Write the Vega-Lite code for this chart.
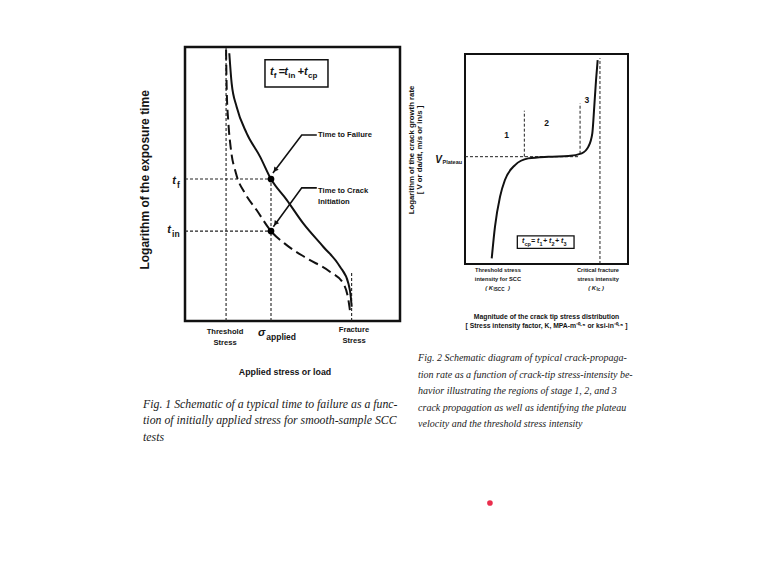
{
  "$schema": "https://vega.github.io/schema/vega-lite/v6.json",
  "width": 767,
  "height": 573,
  "autosize": {"type": "fit", "contains": "padding"},
  "padding": 0,
  "background": "white",
  "config": {
    "view": {"stroke": null},
    "text": {"font": "Liberation Sans Narrow, Liberation Sans, Arial, sans-serif", "fontWeight": "bold", "color": "#141414"}
  },
  "datasets": {
    "p1_box": [{"x": 0, "x2": 100, "y": 0, "y2": 100}],
    "p1_formula_box": [{"x": 37.2, "x2": 66.5, "y": 85.4, "y2": 95.3}],
    "p1_curves": [
      {"s": "time to failure", "x": 20.6, "y": 97.7},
      {"s": "time to failure", "x": 21.7, "y": 86.7},
      {"s": "time to failure", "x": 24.0, "y": 78.2},
      {"s": "time to failure", "x": 28.7, "y": 68.5},
      {"s": "time to failure", "x": 34.9, "y": 60.0},
      {"s": "time to failure", "x": 40.0, "y": 51.8},
      {"s": "time to failure", "x": 47.3, "y": 44.2},
      {"s": "time to failure", "x": 55.0, "y": 35.6},
      {"s": "time to failure", "x": 64.3, "y": 27.1},
      {"s": "time to failure", "x": 72.1, "y": 19.8},
      {"s": "time to failure", "x": 76.0, "y": 13.7},
      {"s": "time to failure", "x": 77.1, "y": 8.9},
      {"s": "time to failure", "x": 77.5, "y": 5.2},
      {"s": "time to crack initiation", "x": 19.1, "y": 99.0},
      {"s": "time to crack initiation", "x": 19.4, "y": 84.3},
      {"s": "time to crack initiation", "x": 20.2, "y": 72.1},
      {"s": "time to crack initiation", "x": 21.4, "y": 62.4},
      {"s": "time to crack initiation", "x": 23.7, "y": 53.9},
      {"s": "time to crack initiation", "x": 27.9, "y": 46.6},
      {"s": "time to crack initiation", "x": 33.3, "y": 40.5},
      {"s": "time to crack initiation", "x": 40.0, "y": 32.8},
      {"s": "time to crack initiation", "x": 47.3, "y": 27.7},
      {"s": "time to crack initiation", "x": 56.6, "y": 22.9},
      {"s": "time to crack initiation", "x": 67.4, "y": 18.0},
      {"s": "time to crack initiation", "x": 73.6, "y": 13.7},
      {"s": "time to crack initiation", "x": 76.0, "y": 7.7},
      {"s": "time to crack initiation", "x": 76.7, "y": 4.0}
    ],
    "p1_guides": [
      {"name": "threshold stress", "x": 19.1, "x2": 19.1, "y": 0, "y2": 100},
      {"name": "applied stress", "x": 40, "x2": 40, "y": 0, "y2": 51.8},
      {"name": "fracture stress", "x": 77.5, "x2": 77.5, "y": 0, "y2": 17.5},
      {"name": "t_f", "x": 0, "x2": 40, "y": 51.8, "y2": 51.8},
      {"name": "t_in", "x": 0, "x2": 40, "y": 32.8, "y2": 32.8}
    ],
    "p1_points": [{"name": "t_f", "x": 40, "y": 51.8}, {"name": "t_in", "x": 40, "y": 32.8}],
    "p1_leaders": [
      {"s": "failure", "x": 61.3, "y": 67.9},
      {"s": "failure", "x": 54.3, "y": 67.9},
      {"s": "failure", "x": 40.9, "y": 54.0},
      {"s": "initiation", "x": 61.3, "y": 48.6},
      {"s": "initiation", "x": 54.3, "y": 48.6},
      {"s": "initiation", "x": 41.1, "y": 34.4}
    ],
    "p1_arrowheads": [{"s": "failure", "x": 41.9, "y": 55.1}, {"s": "initiation", "x": 42.1, "y": 35.6}],
    "p1_text": [
      {"role": "callout", "text": "Time to Failure", "x": 61.9, "y": 69.2},
      {"role": "callout", "text": "Time to Crack\nInitiation", "x": 61.9, "y": 48.9},
      {"role": "tick", "text": "Threshold\nStress", "x": 18.6, "y": -2.55},
      {"role": "tick", "text": "Fracture\nStress", "x": 78.6, "y": -1.8},
      {"role": "xtitle", "text": "Applied stress or load", "x": 46.5, "y": -18.6},
      {"role": "ytitle", "text": "Logarithm of the exposure time", "x": -18.6, "y": 51.5},
      {"role": "formula", "text": "t", "x": 39.53, "y": 90.9},
      {"role": "formula", "text": "=", "x": 43.5, "y": 90.9},
      {"role": "formula", "text": "t", "x": 46.2, "y": 90.9},
      {"role": "formula", "text": "+", "x": 52.3, "y": 90.9},
      {"role": "formula", "text": "t", "x": 55.35, "y": 90.9},
      {"role": "formula_sub", "text": "f", "x": 41.3, "y": 89.4},
      {"role": "formula_sub", "text": "in", "x": 48.0, "y": 89.4},
      {"role": "formula_sub", "text": "cp", "x": 57.21, "y": 89.4},
      {"role": "sym", "text": "t", "x": -4.2, "y": 51.1},
      {"role": "sym", "text": "t", "x": -6.5, "y": 33.2},
      {"role": "sym", "text": "σ", "x": 37.4, "y": -4.4},
      {"role": "sym_sub", "text": "f", "x": -3.7, "y": 49.6},
      {"role": "sym_sub", "text": "in", "x": -6.0, "y": 31.8},
      {"role": "sym_sub", "text": "applied", "x": 37.8, "y": -5.8},
      {"role": "caption", "text": "Fig. 1 Schematic of a typical time to failure as a func-\ntion of initially applied stress for smooth-sample SCC\ntests", "x": -19.5, "y": -28.5}
    ],
    "p2_box": [{"x": 0, "x2": 100, "y": 0, "y2": 100}],
    "p2_formula_box": [{"x": 32.1, "x2": 66.9, "y": 7.4, "y2": 13.4}],
    "p2_curve": [
      {"x": 16.4, "y": 2.7},
      {"x": 18.4, "y": 17.8},
      {"x": 21.5, "y": 32.1},
      {"x": 24.5, "y": 40.0},
      {"x": 30.7, "y": 47.1},
      {"x": 38.8, "y": 50.3},
      {"x": 51.1, "y": 51.1},
      {"x": 63.4, "y": 51.4},
      {"x": 71.6, "y": 52.7},
      {"x": 75.7, "y": 55.9},
      {"x": 78.1, "y": 62.2},
      {"x": 79.3, "y": 74.9},
      {"x": 80.4, "y": 87.6},
      {"x": 81.4, "y": 97.1}
    ],
    "p2_guides": [
      {"name": "critical fracture stress intensity", "x": 82.8, "x2": 82.8, "y": 0, "y2": 98},
      {"name": "plateau velocity", "x": 0, "x2": 70, "y": 51.1, "y2": 51.1},
      {"name": "stage 1/2", "x": 36.4, "x2": 36.4, "y": 51.1, "y2": 73},
      {"name": "stage 2/3", "x": 70.6, "x2": 70.6, "y": 52.5, "y2": 76.5}
    ],
    "p2_text": [
      {"role": "ytitle", "text": "Logarithm of the crack growth rate\n[ V or da/dt, m/s or in/s ]", "x": -35.2, "y": 54.3},
      {"role": "vsym", "text": "V", "x": -14.1, "y": 49.5},
      {"role": "vsub", "text": "Plateau", "x": -13.8, "y": 48.6},
      {"role": "stage", "text": "1", "x": 25.6, "y": 61.4},
      {"role": "stage", "text": "2", "x": 50.1, "y": 67.0},
      {"role": "stage", "text": "3", "x": 74.7, "y": 78.1},
      {"role": "formula", "text": "t", "x": 35.0, "y": 10.8},
      {"role": "formula", "text": "= t", "x": 40.5, "y": 10.8},
      {"role": "formula", "text": "+ t", "x": 47.9, "y": 10.8},
      {"role": "formula", "text": "+ t", "x": 55.2, "y": 10.8},
      {"role": "formula_sub", "text": "cp", "x": 36.5, "y": 9.6},
      {"role": "formula_sub", "text": "1", "x": 45.7, "y": 9.6},
      {"role": "formula_sub", "text": "2", "x": 53.1, "y": 9.6},
      {"role": "formula_sub", "text": "3", "x": 60.4, "y": 9.6},
      {"role": "tick", "text": "Threshold stress\nintensity for SCC", "x": 20.2, "y": -1.6},
      {"role": "tick", "text": "Critical fracture\nstress intensity", "x": 81.6, "y": -1.6},
      {"role": "k", "text": "( K", "x": 17.2, "y": -11.6},
      {"role": "k", "text": ")", "x": 27.6, "y": -11.6},
      {"role": "k_sub", "text": "ISCC", "x": 17.5, "y": -12.3},
      {"role": "k", "text": "( K", "x": 80.4, "y": -11.6},
      {"role": "k", "text": ")", "x": 85.3, "y": -11.6},
      {"role": "k_sub", "text": "Ic", "x": 80.7, "y": -12.3},
      {"role": "xtitle", "text": "Magnitude of the crack tip stress distribution\n[ Stress intensity factor, K, MPA-m⁻⁰·⁵ or ksi-in⁻⁰·⁵ ]", "x": 50.0, "y": -24.0},
      {"role": "caption", "text": "Fig. 2 Schematic diagram of typical crack-propaga-\ntion rate as a function of crack-tip stress-intensity be-\nhavior illustrating the regions of stage 1, 2, and 3\ncrack propagation as well as identifying the plateau\nvelocity and the threshold stress intensity", "x": -28.8, "y": -42.6}
    ],
    "pointer": [{"name": "laser pointer", "x": 15.3, "y": -113.8}]
  },
  "layer": [
    {
      "encoding": {
        "x": {"field": "x", "type": "quantitative", "scale": {"domain": [-86.05, 270.7], "nice": false, "zero": false}, "axis": null},
        "y": {"field": "y", "type": "quantitative", "scale": {"domain": [-91.97, 117.15], "nice": false, "zero": false}, "axis": null}
      },
      "layer": [
        {"data": {"name": "p1_box"}, "mark": {"type": "rect", "fill": null, "stroke": "#111", "strokeWidth": 2.5}, "encoding": {"x2": {"field": "x2"}, "y2": {"field": "y2"}}},
        {"data": {"name": "p1_guides"}, "mark": {"type": "rule", "stroke": "#222", "strokeWidth": 1.1, "strokeDash": [3, 2]}, "encoding": {"x2": {"field": "x2"}, "y2": {"field": "y2"}}},
        {"data": {"name": "p1_curves"}, "transform": [{"filter": "datum.s === 'time to failure'"}], "mark": {"type": "line", "interpolate": "monotone", "stroke": "#111", "strokeWidth": 2}, "encoding": {}},
        {"data": {"name": "p1_curves"}, "transform": [{"filter": "datum.s === 'time to crack initiation'"}], "mark": {"type": "line", "interpolate": "monotone", "stroke": "#111", "strokeWidth": 2, "strokeDash": [10, 5]}, "encoding": {}},
        {"data": {"name": "p1_leaders"}, "mark": {"type": "line", "stroke": "#111", "strokeWidth": 1.6}, "encoding": {"detail": {"field": "s"}}},
        {"data": {"name": "p1_arrowheads"}, "mark": {"type": "point", "shape": "triangle-up", "angle": 217, "filled": true, "color": "#111", "size": 30, "opacity": 1}, "encoding": {}},
        {"data": {"name": "p1_points"}, "mark": {"type": "point", "filled": true, "color": "#000", "size": 45, "opacity": 1}, "encoding": {}},
        {"data": {"name": "p1_formula_box"}, "mark": {"type": "rect", "fill": "white", "stroke": "#111", "strokeWidth": 1.5}, "encoding": {"x2": {"field": "x2"}, "y2": {"field": "y2"}}},
        {"data": {"name": "p1_text"}, "transform": [{"filter": "datum.role === 'callout'"}], "mark": {"type": "text", "fontSize": 7.6, "align": "left", "baseline": "top", "lineBreak": "\n", "lineHeight": 11}, "encoding": {"text": {"field": "text"}}},
        {"data": {"name": "p1_text"}, "transform": [{"filter": "datum.role === 'tick'"}], "mark": {"type": "text", "fontSize": 7.6, "align": "center", "baseline": "top", "lineBreak": "\n", "lineHeight": 11.5}, "encoding": {"text": {"field": "text"}}},
        {"data": {"name": "p1_text"}, "transform": [{"filter": "datum.role === 'xtitle'"}], "mark": {"type": "text", "fontSize": 8.8, "align": "center", "baseline": "middle"}, "encoding": {"text": {"field": "text"}}},
        {"data": {"name": "p1_text"}, "transform": [{"filter": "datum.role === 'ytitle'"}], "mark": {"type": "text", "fontSize": 12, "align": "center", "baseline": "middle", "angle": 270}, "encoding": {"text": {"field": "text"}}},
        {"data": {"name": "p1_text"}, "transform": [{"filter": "datum.role === 'formula'"}], "mark": {"type": "text", "fontSize": 11, "align": "left", "baseline": "middle", "fontStyle": "italic"}, "encoding": {"text": {"field": "text"}}},
        {"data": {"name": "p1_text"}, "transform": [{"filter": "datum.role === 'formula_sub'"}], "mark": {"type": "text", "fontSize": 8, "align": "left", "baseline": "middle"}, "encoding": {"text": {"field": "text"}}},
        {"data": {"name": "p1_text"}, "transform": [{"filter": "datum.role === 'sym'"}], "mark": {"type": "text", "fontSize": 11, "align": "right", "baseline": "middle", "fontStyle": "italic"}, "encoding": {"text": {"field": "text"}}},
        {"data": {"name": "p1_text"}, "transform": [{"filter": "datum.role === 'sym_sub'"}], "mark": {"type": "text", "fontSize": 8.5, "align": "left", "baseline": "middle"}, "encoding": {"text": {"field": "text"}}},
        {"data": {"name": "p1_text"}, "transform": [{"filter": "datum.role === 'caption'"}], "mark": {"type": "text", "font": "Liberation Serif, Times New Roman, serif", "fontWeight": "normal", "fontStyle": "italic", "fontSize": 11.8, "align": "left", "baseline": "top", "lineBreak": "\n", "lineHeight": 16.3, "color": "#1a1a1a"}, "encoding": {"text": {"field": "text"}}}
      ]
    },
    {
      "encoding": {
        "x": {"field": "x", "type": "quantitative", "scale": {"domain": [-285.28, 185.28], "nice": false, "zero": false}, "axis": null},
        "y": {"field": "y", "type": "quantitative", "scale": {"domain": [-147.14, 125.71], "nice": false, "zero": false}, "axis": null}
      },
      "layer": [
        {"data": {"name": "p2_box"}, "mark": {"type": "rect", "fill": null, "stroke": "#111", "strokeWidth": 2}, "encoding": {"x2": {"field": "x2"}, "y2": {"field": "y2"}}},
        {"data": {"name": "p2_guides"}, "mark": {"type": "rule", "stroke": "#222", "strokeWidth": 1, "strokeDash": [3, 2]}, "encoding": {"x2": {"field": "x2"}, "y2": {"field": "y2"}}},
        {"data": {"name": "p2_curve"}, "mark": {"type": "line", "interpolate": "monotone", "stroke": "#111", "strokeWidth": 2}, "encoding": {}},
        {"data": {"name": "p2_formula_box"}, "mark": {"type": "rect", "fill": "white", "stroke": "#111", "strokeWidth": 1.3}, "encoding": {"x2": {"field": "x2"}, "y2": {"field": "y2"}}},
        {"data": {"name": "p2_text"}, "transform": [{"filter": "datum.role === 'ytitle'"}], "mark": {"type": "text", "fontSize": 7.8, "align": "center", "baseline": "top", "angle": 270, "lineBreak": "\n", "lineHeight": 8.7}, "encoding": {"text": {"field": "text"}}},
        {"data": {"name": "p2_text"}, "transform": [{"filter": "datum.role === 'vsym'"}], "mark": {"type": "text", "fontSize": 10, "align": "right", "baseline": "middle", "fontStyle": "italic"}, "encoding": {"text": {"field": "text"}}},
        {"data": {"name": "p2_text"}, "transform": [{"filter": "datum.role === 'vsub'"}], "mark": {"type": "text", "fontSize": 5.5, "align": "left", "baseline": "middle"}, "encoding": {"text": {"field": "text"}}},
        {"data": {"name": "p2_text"}, "transform": [{"filter": "datum.role === 'stage'"}], "mark": {"type": "text", "fontSize": 8.5, "align": "center", "baseline": "middle"}, "encoding": {"text": {"field": "text"}}},
        {"data": {"name": "p2_text"}, "transform": [{"filter": "datum.role === 'formula'"}], "mark": {"type": "text", "fontSize": 7, "align": "left", "baseline": "middle", "fontStyle": "italic"}, "encoding": {"text": {"field": "text"}}},
        {"data": {"name": "p2_text"}, "transform": [{"filter": "datum.role === 'formula_sub'"}], "mark": {"type": "text", "fontSize": 5.5, "align": "left", "baseline": "middle"}, "encoding": {"text": {"field": "text"}}},
        {"data": {"name": "p2_text"}, "transform": [{"filter": "datum.role === 'tick'"}], "mark": {"type": "text", "fontSize": 5.7, "align": "center", "baseline": "top", "lineBreak": "\n", "lineHeight": 8.5}, "encoding": {"text": {"field": "text"}}},
        {"data": {"name": "p2_text"}, "transform": [{"filter": "datum.role === 'k'"}], "mark": {"type": "text", "fontSize": 5.8, "align": "right", "baseline": "middle", "fontStyle": "italic"}, "encoding": {"text": {"field": "text"}}},
        {"data": {"name": "p2_text"}, "transform": [{"filter": "datum.role === 'k_sub'"}], "mark": {"type": "text", "fontSize": 4.6, "align": "left", "baseline": "middle"}, "encoding": {"text": {"field": "text"}}},
        {"data": {"name": "p2_text"}, "transform": [{"filter": "datum.role === 'xtitle'"}], "mark": {"type": "text", "fontSize": 6.8, "align": "center", "baseline": "top", "lineBreak": "\n", "lineHeight": 9}, "encoding": {"text": {"field": "text"}}},
        {"data": {"name": "p2_text"}, "transform": [{"filter": "datum.role === 'caption'"}], "mark": {"type": "text", "font": "Liberation Serif, Times New Roman, serif", "fontWeight": "normal", "fontStyle": "italic", "fontSize": 10, "align": "left", "baseline": "top", "lineBreak": "\n", "lineHeight": 16.4, "color": "#1a1a1a"}, "encoding": {"text": {"field": "text"}}},
        {"data": {"name": "pointer"}, "mark": {"type": "point", "filled": true, "color": "#e8173a", "size": 32, "opacity": 0.9}, "encoding": {}}
      ]
    }
  ],
  "resolve": {"scale": {"x": "independent", "y": "independent"}}
}
